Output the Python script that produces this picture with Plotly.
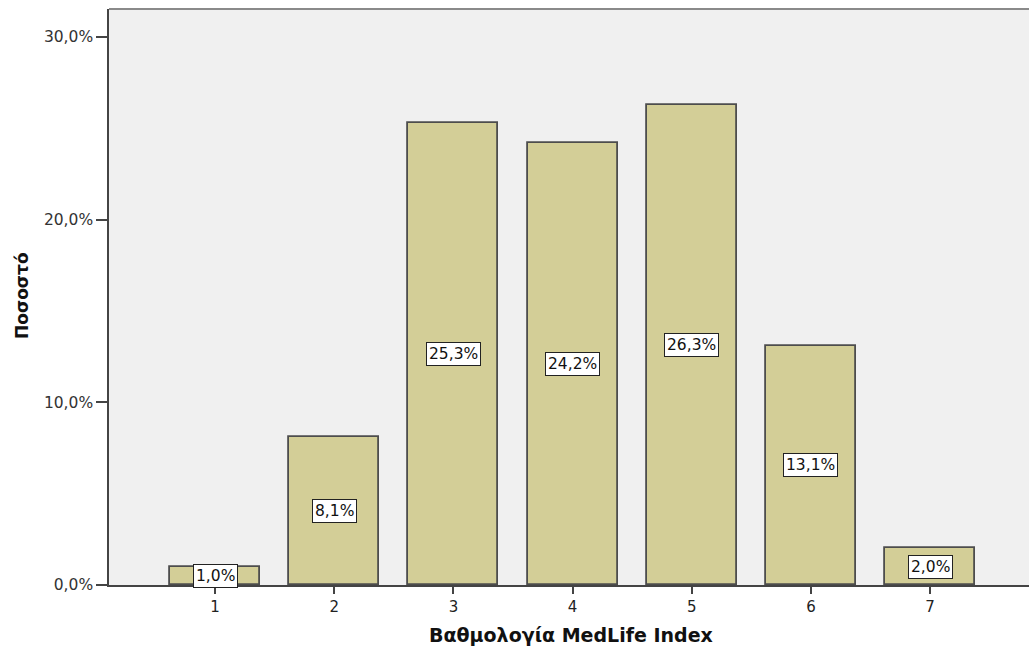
import plotly.graph_objects as go

# MedLife Index score distribution (percent of respondents)
scores = [1, 2, 3, 4, 5, 6, 7]
percent = [1.0, 8.1, 25.3, 24.2, 26.3, 13.1, 2.0]
y_ticks = [0, 10, 20, 30]
y_tick_labels = ["0,0%", "10,0%", "20,0%", "30,0%"]

W, H = 1029, 649
L, R, T, B = 109, 0, 9, 64
FONT = "DejaVu Sans"

fig = go.Figure()
fig.add_trace(go.Bar(
    x=scores, y=percent, width=0.755,
    marker=dict(color="#D3CE97", line=dict(color="#4d4d4d", width=1.8)),
    hoverinfo="x+y",
))

# value labels in boxed tags at mid-bar height
for s, p in zip(scores, percent):
    fig.add_annotation(
        x=s, y=p / 2, xref="x", yref="y",
        text=f"{p:.1f}%".replace(".", ","), showarrow=False,
        font=dict(family=FONT, size=15.5, color="#111"),
        bgcolor="white", bordercolor="#222", borderwidth=1, borderpad=2,
    )

plot_w = W - L - R
plot_h = H - T - B
fig.add_annotation(
    x=(571 - L) / plot_w, y=-(635 - (H - B)) / plot_h, xref="paper", yref="paper",
    text="<b>Βαθμολογία MedLife Index</b>", showarrow=False,
    font=dict(family=FONT, size=19, color="#111"),
    xanchor="center", yanchor="middle",
)
fig.add_annotation(
    x=-(L - 22) / plot_w, y=(H - B - 296) / plot_h, xref="paper", yref="paper",
    text="<b>Ποσοστό</b>", showarrow=False, textangle=-90,
    font=dict(family=FONT, size=17, color="#111"),
    xanchor="center", yanchor="middle",
)

# top frame edge
fig.add_shape(type="line", xref="paper", yref="paper", x0=0, x1=1, y0=1, y1=1,
              line=dict(color="#8a8a8a", width=2))

fig.update_layout(
    width=W, height=H,
    margin=dict(l=L, r=R, t=T, b=B),
    paper_bgcolor="white", plot_bgcolor="#F0F0F0",
    showlegend=False, bargap=0,
    xaxis=dict(
        range=[0.11, 7.83], tickvals=scores, ticktext=[str(s) for s in scores],
        ticks="outside", ticklen=7, tickwidth=2, tickcolor="#444",
        showline=True, linecolor="#444", linewidth=1.5,
        showgrid=False, zeroline=False,
        tickfont=dict(family=FONT, size=15, color="#222"),
    ),
    yaxis=dict(
        range=[0, 31.53], tickvals=y_ticks, ticktext=y_tick_labels,
        ticks="outside", ticklen=11, tickwidth=1.5, tickcolor="#444",
        showline=True, linecolor="#444", linewidth=1.5,
        showgrid=False, zeroline=False,
        tickfont=dict(family=FONT, size=15.5, color="#333"),
    ),
)

fig.write_html("out.html")
